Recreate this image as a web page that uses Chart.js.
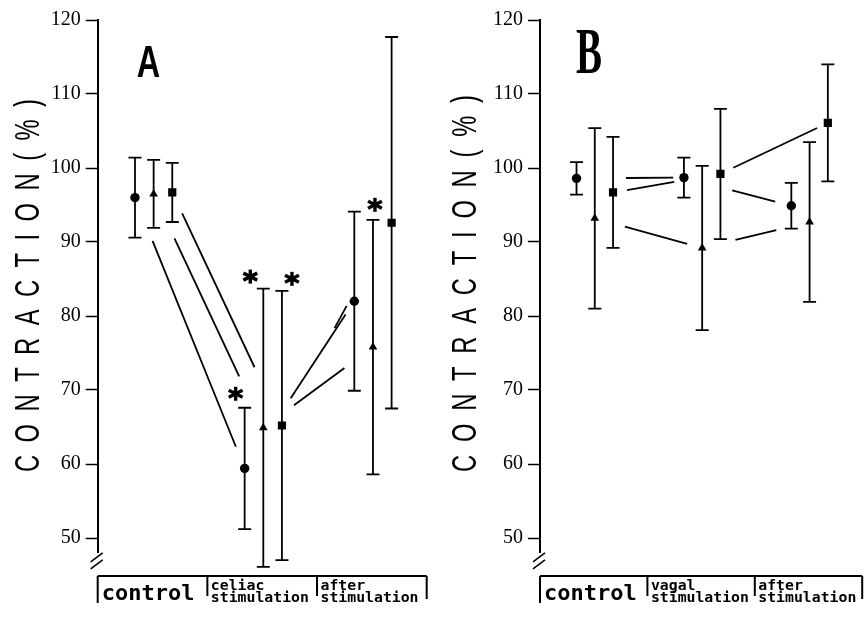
<!DOCTYPE html>
<html>
<head>
<meta charset="utf-8">
<script src="https://cdn.jsdelivr.net/npm/chart.js@4.4.1/dist/chart.umd.min.js"></script>
<style>
  html, body { margin: 0; padding: 0; background: #fff; }
  #wrap { position: relative; width: 868px; height: 619px; }
  canvas { position: absolute; top: 0; }
</style>
</head>
<body>
<div id="wrap">
  <canvas id="panel-a" width="434" height="619" style="left:0"></canvas>
  <canvas id="panel-b" width="434" height="619" style="left:434px"></canvas>
</div>
<script>
/* ── Data ───────────────────────────────────────────────────── */
const tickValues = [50, 60, 70, 80, 90, 100, 110, 120];
const axisTitle  = 'CONTRACTION(%)';

// Panel A : celiac stimulation
const groupsA      = [['control'], ['celiac', 'stimulation'], ['after', 'stimulation']];
const circleA      = [96.0, 59.4, 82.0];
const triangleA    = [96.5, 64.9, 75.8];
const squareA      = [96.7, 65.2, 92.6];
const circleSdA    = [5.4, 8.2, 12.1];
const triangleSdA  = [4.6, 18.8, 17.2];
const squareSdA    = [4.0, 18.2, 25.1];
const circleSigA   = [false, true, false];
const triangleSigA = [false, true, true];
const squareSigA   = [false, true, false];

// Panel B : vagal stimulation
const groupsB      = [['control'], ['vagal', 'stimulation'], ['after', 'stimulation']];
const circleB      = [98.6, 98.7, 94.9];
const triangleB    = [93.2, 89.2, 92.7];
const squareB      = [96.7, 99.2, 106.1];
const circleSdB    = [2.2, 2.7, 3.1];
const triangleSdB  = [12.2, 11.1, 10.8];
const squareSdB    = [7.5, 8.8, 7.9];
const circleSigB   = [false, false, false];
const triangleSigB = [false, false, false];
const squareSigB   = [false, false, false];

/* ── Styling (not data) ─────────────────────────────────────── */
const offsets = [-0.16, 0.01, 0.18];
const marks   = [{ style: 'circle', r: 4.7 }, { style: 'triangle', r: 5 }, { style: 'rect', r: 5.8 }];

// part of each connecting line that is drawn (fraction of the way between groups)
const trimsA = [[[0.16, 0.92], [0.42, 0.92]], [[0.19, 0.78], [0.28, 0.74]], [[0.09, 0.75], [0.48, 0.59]]];
const trimsB = [[[0.46, 0.90], [0.45, 0.85]], [[0.28, 0.86], [0.31, 0.69]], [[0.13, 0.57], [0.12, 0.90]]];

// asterisk placement relative to point x / top of error bar
const starPosA = [[null, [-9, -14], null], [null, [-13, -12], [2, -15]], [null, [10, -12], null]];
const starPosB = [[null, null, null], [null, null, null], [null, null, null]];

const MONO = '"DejaVu Sans Mono", monospace';
const SANS = '"Liberation Sans", Arial, sans-serif';

const panelA = {
  groups: groupsA,
  series: [
    { mean: circleA,   sd: circleSdA,   sig: circleSigA },
    { mean: triangleA, sd: triangleSdA, sig: triangleSigA },
    { mean: squareA,   sd: squareSdA,   sig: squareSigA }
  ],
  trims: trimsA, stars: starPosA,
  axisWidth: 97.7, padRight: 7.3,
  title: { x: 26, y: 285.5, len: 373 },
  letter: { text: 'A', x: 148.5, y: 77, font: 'bold 45px ' + SANS, sx: 0.72 }
};

const panelB = {
  groups: groupsB,
  series: [
    { mean: circleB,   sd: circleSdB,   sig: circleSigB },
    { mean: triangleB, sd: triangleSdB, sig: triangleSigB },
    { mean: squareB,   sd: squareSdB,   sig: squareSigB }
  ],
  trims: trimsB, stars: starPosB,
  axisWidth: 106, padRight: 2,
  title: { x: 29, y: 283.5, len: 377 },
  letter: { text: 'B', x: 155, y: 73, font: 'bold 65px "Liberation Serif", serif', sx: 0.6 }
};

/* ── Helpers ────────────────────────────────────────────────── */
function drawStar(ctx, cx, cy) {
  ctx.save();
  ctx.lineWidth = 3.4;
  [90, 30, 150].forEach(a => {
    const rad = a * Math.PI / 180, dx = Math.cos(rad) * 8, dy = Math.sin(rad) * 7;
    ctx.beginPath();
    ctx.moveTo(cx - dx, cy - dy);
    ctx.lineTo(cx + dx, cy + dy);
    ctx.stroke();
  });
  ctx.restore();
}

// rotated, letter-spaced and narrowed axis title
function drawSpaced(ctx, text, cx, cy, length, squeeze) {
  const chars  = [...text];
  const widths = chars.map(c => ctx.measureText(c).width * squeeze);
  const total  = widths.reduce((a, b) => a + b, 0);
  const gap    = (length - total) / (chars.length - 1);
  ctx.save();
  ctx.translate(cx, cy);
  ctx.rotate(-Math.PI / 2);
  let pos = -length / 2;
  chars.forEach((c, i) => {
    ctx.save();
    ctx.translate(pos, 0);
    ctx.scale(squeeze, 1);
    ctx.fillText(c, 0, 0);
    ctx.restore();
    pos += widths[i] + gap;
  });
  ctx.restore();
}

/* ── Decoration plugin ──────────────────────────────────────── */
function makeDecor(panel) {
  return {
    id: 'decor',
    beforeDatasetsDraw(chart) {
      const { ctx } = chart, xs = chart.scales.x, ys = chart.scales.y;
      ctx.save();
      ctx.strokeStyle = '#000';
      ctx.lineCap = 'butt';

      // connecting lines between groups
      ctx.lineWidth = 1.8;
      panel.series.forEach((s, si) => {
        for (let g = 0; g < s.mean.length - 1; g++) {
          const [t0, t1] = panel.trims[si][g];
          const xa = xs.getPixelForValue(g + offsets[si]),     ya = ys.getPixelForValue(s.mean[g]);
          const xb = xs.getPixelForValue(g + 1 + offsets[si]), yb = ys.getPixelForValue(s.mean[g + 1]);
          ctx.beginPath();
          ctx.moveTo(xa + (xb - xa) * t0, ya + (yb - ya) * t0);
          ctx.lineTo(xa + (xb - xa) * t1, ya + (yb - ya) * t1);
          ctx.stroke();
        }
      });

      // error bars
      panel.series.forEach((s, si) => {
        s.mean.forEach((m, g) => {
          const px = xs.getPixelForValue(g + offsets[si]);
          const hi = ys.getPixelForValue(m + s.sd[g]);
          const lo = ys.getPixelForValue(m - s.sd[g]);
          ctx.lineWidth = 1.8;
          ctx.beginPath();
          ctx.moveTo(px, hi); ctx.lineTo(px, lo);
          ctx.moveTo(px - 6.5, hi); ctx.lineTo(px + 6.5, hi);
          ctx.moveTo(px - 6.5, lo); ctx.lineTo(px + 6.5, lo);
          ctx.stroke();
          if (s.sig[g]) {
            const [dx, dy] = panel.stars[si][g];
            drawStar(ctx, px + dx, hi + dy);
          }
        });
      });
      ctx.restore();
    },

    afterDraw(chart) {
      const { ctx, chartArea } = chart, xs = chart.scales.x;
      ctx.save();
      ctx.strokeStyle = '#000';
      ctx.fillStyle = '#000';

      // axis break marks
      const ax = chartArea.left, ab = chartArea.bottom;
      ctx.lineWidth = 1.6;
      ctx.beginPath();
      ctx.moveTo(ax - 7, ab + 9);  ctx.lineTo(ax + 5, ab + 0);
      ctx.moveTo(ax - 7, ab + 16); ctx.lineTo(ax + 5, ab + 7);
      ctx.stroke();

      // category box under the plot
      const boxTop = 576;
      ctx.lineWidth = 2;
      ctx.beginPath();
      ctx.moveTo(chartArea.left, boxTop);
      ctx.lineTo(chartArea.right, boxTop);
      panel.groups.forEach((_, g) => {
        const bx = xs.getPixelForValue(g - 0.5);
        ctx.moveTo(bx, boxTop); ctx.lineTo(bx, g === 0 ? 603 : 596);
      });
      ctx.moveTo(chartArea.right, boxTop); ctx.lineTo(chartArea.right, 599);
      ctx.stroke();

      ctx.textAlign = 'left';
      ctx.textBaseline = 'alphabetic';
      panel.groups.forEach((lines, g) => {
        const bx = xs.getPixelForValue(g - 0.5);
        if (lines.length === 1) {
          ctx.font = 'bold 22px ' + MONO;
          ctx.fillText(lines[0], bx + 4, 600);
        } else {
          ctx.font = 'bold 14.8px ' + MONO;
          lines.forEach((t, i) => ctx.fillText(t, bx + 3.5, 590 + i * 12));
        }
      });

      // y axis title
      ctx.font = '35px ' + SANS;
      ctx.textBaseline = 'alphabetic';
      drawSpaced(ctx, axisTitle, panel.title.x + 12.5, panel.title.y, panel.title.len, 0.68);

      // panel letter
      const L = panel.letter;
      ctx.font = L.font;
      ctx.textAlign = 'center';
      ctx.save();
      ctx.translate(L.x, L.y);
      ctx.scale(L.sx, 1);
      ctx.fillText(L.text, 0, 0);
      ctx.restore();

      ctx.restore();
    }
  };
}

/* ── Charts ─────────────────────────────────────────────────── */
function makeChart(id, panel) {
  return new Chart(document.getElementById(id), {
    type: 'scatter',
    data: {
      datasets: panel.series.map((s, si) => ({
        data: s.mean.map((v, g) => ({ x: g + offsets[si], y: v })),
        pointStyle: marks[si].style,
        pointRadius: marks[si].r,
        pointHoverRadius: marks[si].r,
        backgroundColor: '#000',
        borderColor: '#000',
        borderWidth: 0,
        showLine: false
      }))
    },
    options: {
      responsive: false,
      animation: false,
      devicePixelRatio: 1,
      events: [],
      layout: { padding: { top: 20, bottom: 66.2, left: 0, right: panel.padRight } },
      plugins: { legend: { display: false }, tooltip: { enabled: false } },
      scales: {
        x: { type: 'linear', display: false, min: -0.5, max: 2.5 },
        y: {
          min: 48, max: 120,
          afterBuildTicks: sc => { sc.ticks = tickValues.map(v => ({ value: v })); },
          afterFit: sc => { sc.width = panel.axisWidth; },
          border: { display: true, color: '#000', width: 2 },
          grid: { drawOnChartArea: false, drawTicks: true, tickLength: 12, tickColor: '#000', tickWidth: 1.5 },
          ticks: { color: '#000', padding: 5, font: { family: '"Liberation Serif", serif', size: 20 } }
        }
      }
    },
    plugins: [makeDecor(panel)]
  });
}

makeChart('panel-a', panelA);
makeChart('panel-b', panelB);
</script>
</body>
</html>
